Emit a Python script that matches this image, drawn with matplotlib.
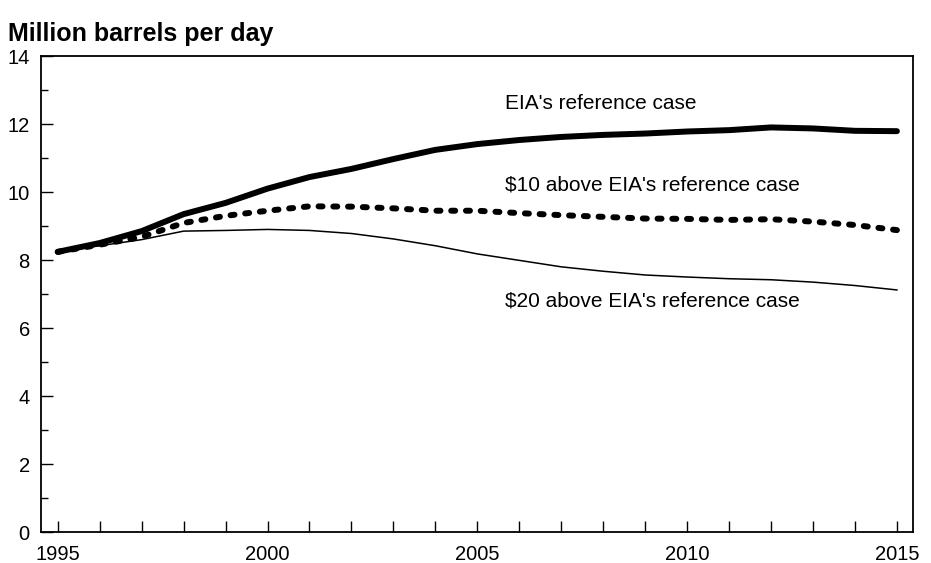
import matplotlib
matplotlib.use('Agg')
import matplotlib.pyplot as plt
from matplotlib.ticker import MultipleLocator

plt.rcParams['font.family'] = ['Liberation Sans', 'DejaVu Sans']

years = list(range(1995, 2016))

# Million barrels per day
reference_case = [8.24, 8.5, 8.85, 9.35, 9.68, 10.1, 10.44, 10.68, 10.97, 11.24, 11.41,
                  11.53, 11.62, 11.68, 11.72, 11.78, 11.82, 11.9, 11.87, 11.8, 11.79]
plus10_case = [8.24, 8.45, 8.68, 9.09, 9.3, 9.45, 9.58, 9.57, 9.52, 9.45, 9.45,
               9.38, 9.32, 9.27, 9.22, 9.21, 9.18, 9.2, 9.13, 9.03, 8.88]
plus20_case = [8.24, 8.42, 8.6, 8.85, 8.87, 8.9, 8.87, 8.78, 8.62, 8.42, 8.18,
               7.99, 7.8, 7.67, 7.56, 7.5, 7.45, 7.42, 7.35, 7.25, 7.12]

labels = ["EIA's reference case", "$10 above EIA's reference case",
          "$20 above EIA's reference case"]

fig = plt.figure(figsize=(9.31, 5.63), dpi=100)
ax = fig.add_axes([0.044, 0.055, 0.9365, 0.8455])

ax.plot(years, reference_case, color='black', lw=4.3, solid_capstyle='round')
ax.plot(years, plus10_case, color='black', lw=4.3, linestyle=(0, (0.67, 1.8)),
        dash_capstyle='round')
ax.plot(years, plus20_case, color='black', lw=1.1)

# curve labels
ax.text(2005.66, 12.6, labels[0], fontsize=15, ha='left', va='center')
ax.text(2005.66, 10.2, labels[1], fontsize=15, ha='left', va='center')
ax.text(2005.66, 6.8, labels[2], fontsize=15, ha='left', va='center')

ax.set_xlim(1994.6, 2015.38)
ax.set_ylim(0, 14)
ax.set_xticks([1995, 2000, 2005, 2010, 2015])
ax.xaxis.set_minor_locator(MultipleLocator(1))
ax.set_yticks(range(0, 15, 2))
ax.yaxis.set_minor_locator(MultipleLocator(1))

ax.tick_params(axis='both', which='both', direction='in', labelsize=14.5, width=1)
ax.tick_params(axis='x', which='both', length=8, pad=9)
ax.tick_params(axis='y', which='major', length=8.5, pad=8)
ax.tick_params(axis='y', which='minor', length=5)
for s in ax.spines.values():
    s.set_linewidth(1.3)

fig.text(0.009, 0.94, 'Million barrels per day', fontsize=18, fontweight='bold',
         ha='left', va='center')

fig.savefig('out.png', dpi=100, facecolor='white')
